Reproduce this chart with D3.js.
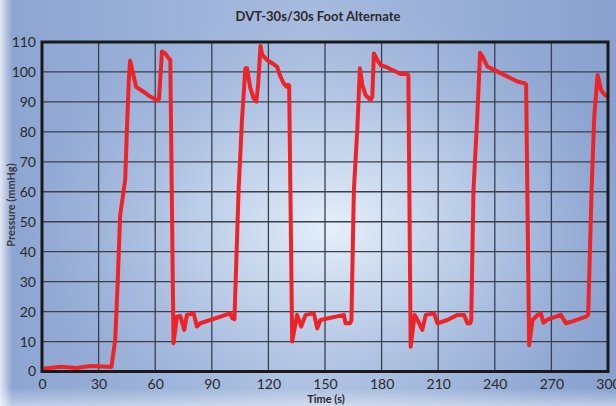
<!DOCTYPE html>
<html><head><meta charset="utf-8">
<script src="https://cdn.jsdelivr.net/npm/d3@7"></script>
<style>html,body{margin:0;padding:0;background:#fff;overflow:hidden}</style>
</head><body>
<svg id="c" width="616" height="406"></svg>
<script>
const title = "DVT-30s/30s Foot Alternate";
const xLabel = "Time (s)";
const yLabel = "Pressure (mmHg)";
const xTicks = [0,30,60,90,120,150,180,210,240,270,300];
const yTicks = [0,10,20,30,40,50,60,70,80,90,100,110];
const times = [1.6,10,18,26,36.8,38.8,40,41.4,44.1,45,46,46.7,49.9,53.8,57.3,60.9,62,63.6,65.3,67.1,68,69.7,71.5,73.3,75.4,76.8,80.4,82.1,83.9,99.8,100.7,102,104.2,106,107.8,108.7,110.4,112.2,113.6,114.6,115.8,116.7,119.3,122,124.6,126.4,128.1,129.6,130.3,131,132.6,135.2,137.4,139.7,144.1,145.9,147.6,160,160.9,163.2,164,165.3,167.1,168.5,169.8,171.5,174.2,175.1,175.9,177.7,179.5,183,186.6,190.1,193.7,194.2,195.4,197.5,198.8,201.6,203.4,207.8,209.6,214.9,220.2,223.7,225.5,226.9,227.5,228.7,230.8,232.2,233.5,236.1,241.4,248.5,252,255.9,256.6,258.2,260,262.7,264.4,265.8,267.6,275,277.7,280.3,288.3,289.5,291.3,292.7,294.5,296.3,298.4,299.8];
const pressure = [1,1.6,1.2,1.8,1.5,10.5,28,52,64,80.6,97.3,103.8,95,93.4,91.8,90.6,91,106.8,106.2,104.6,104,9.4,18.3,18.5,13.9,18.9,19.4,15,16.1,19.4,17.9,17.5,60.5,84,101.2,101.2,94.6,91.2,90.1,96,108.7,105.7,104,102.9,101.8,98.4,96.2,95.1,95.7,95.5,10,18.9,15,18.9,19.4,14.4,17.2,18.9,16.1,16.1,17,60.5,80.6,101.2,95.7,92.3,90.6,91.8,106.2,104,102.3,101.5,100.4,99.3,99.3,98.8,8.3,18.9,17.5,13.9,18.9,19.4,16.1,17.2,18.9,18.9,16.1,16.1,17,60.5,86.2,106.4,105.1,101.8,100.1,97.9,96.8,96.2,95.8,8.8,17.2,18.9,19.4,16.3,17.2,18.9,16.1,16.6,18.3,19,60.5,85,99,94,92.3,91.8];

const svg = d3.select("#c");
const W = 616, H = 406;
const defs = svg.append("defs");
const lg = defs.append("linearGradient").attr("id","bgl").attr("x1","0").attr("x2","1").attr("y1","0").attr("y2","0");
lg.append("stop").attr("offset","0").attr("stop-color","#8ca5d1");
lg.append("stop").attr("offset","0.5").attr("stop-color","#a7bbde");
lg.append("stop").attr("offset","1").attr("stop-color","#88a1ce");
const rg = defs.append("radialGradient").attr("id","bgr").attr("cx","0.54").attr("cy","0.56").attr("r","0.5")
  .attr("gradientTransform","translate(0.54,0.56) scale(1,1.1) translate(-0.54,-0.56)");
rg.append("stop").attr("offset","0").attr("stop-color","#e6f0fa").attr("stop-opacity",1);
rg.append("stop").attr("offset","0.45").attr("stop-color","#c8d8ee").attr("stop-opacity",0.7);
rg.append("stop").attr("offset","1").attr("stop-color","#a9bddf").attr("stop-opacity",0);
const le = defs.append("linearGradient").attr("id","ledge").attr("x1","0").attr("x2","1");
le.append("stop").attr("offset","0").attr("stop-color","#ffffff").attr("stop-opacity",0.75);
le.append("stop").attr("offset","1").attr("stop-color","#ffffff").attr("stop-opacity",0);
const be = defs.append("linearGradient").attr("id","bedge").attr("x1","0").attr("x2","0").attr("y1","0").attr("y2","1");
be.append("stop").attr("offset","0").attr("stop-color","#ffffff").attr("stop-opacity",0);
be.append("stop").attr("offset","1").attr("stop-color","#ffffff").attr("stop-opacity",0.45);

svg.append("rect").attr("width",W).attr("height",H).attr("fill","url(#bgl)");
svg.append("rect").attr("width",W).attr("height",H).attr("fill","url(#bgr)");
svg.append("rect").attr("width",12).attr("height",H).attr("fill","url(#ledge)");
svg.append("rect").attr("y",388).attr("width",W).attr("height",18).attr("fill","url(#bedge)");

const x = d3.scaleLinear().domain([0,300]).range([42,608]);
const y = d3.scaleLinear().domain([0,110]).range([371.5,42]);

// grid
svg.append("g").selectAll("line").data(xTicks.slice(1,-1)).join("line")
  .attr("x1",d=>x(d)).attr("x2",d=>x(d)).attr("y1",y(110)).attr("y2",y(0))
  .attr("stroke","#3a3f4a").attr("stroke-width",1.3);
svg.append("g").selectAll("line").data(yTicks.slice(1,-1)).join("line")
  .attr("x1",x(0)).attr("x2",x(300)).attr("y1",d=>y(d)).attr("y2",d=>y(d))
  .attr("stroke","#3a3f4a").attr("stroke-width",1.3);

// data line
const data = times.map((t,i)=>({t, v: pressure[i]}));
svg.append("path").datum(data)
  .attr("d", d3.line().x(d=>x(d.t)).y(d=>y(d.v)))
  .attr("fill","none").attr("stroke","#ee2328").attr("stroke-width",4)
  .attr("stroke-linejoin","round").attr("stroke-linecap","round");

// border
svg.append("rect").attr("x",x(0)).attr("y",y(110)).attr("width",x(300)-x(0)).attr("height",y(0)-y(110))
  .attr("fill","none").attr("stroke","#1a1a1a").attr("stroke-width",3);

// axes
const font = "Lato, 'Open Sans', sans-serif";
const xa = svg.append("g").attr("transform",`translate(0,${y(0)})`)
  .call(d3.axisBottom(x).tickValues(xTicks).tickSize(0).tickPadding(8));
const ya = svg.append("g").attr("transform",`translate(${x(0)},0)`)
  .call(d3.axisLeft(y).tickValues(yTicks).tickSize(0).tickPadding(6));
[xa,ya].forEach(a=>{
  a.select(".domain").remove();
  a.selectAll("text").attr("font-family",font).attr("font-size",14).attr("fill","#2a2a2a");
});

svg.append("text").attr("x",318).attr("y",21).attr("text-anchor","middle")
  .attr("font-family",font).attr("font-weight","bold").attr("font-size",13).attr("fill","#2a2a2a").text(title);
svg.append("text").attr("x",326).attr("y",403).attr("text-anchor","middle")
  .attr("font-family",font).attr("font-weight","bold").attr("font-size",11).attr("fill","#2a2a2a").text(xLabel);
svg.append("text").attr("transform","translate(15,205) rotate(-90)").attr("text-anchor","middle")
  .attr("font-family",font).attr("font-weight","bold").attr("font-size",11).attr("fill","#3a3a3a").text(yLabel);
</script>
</body></html>
